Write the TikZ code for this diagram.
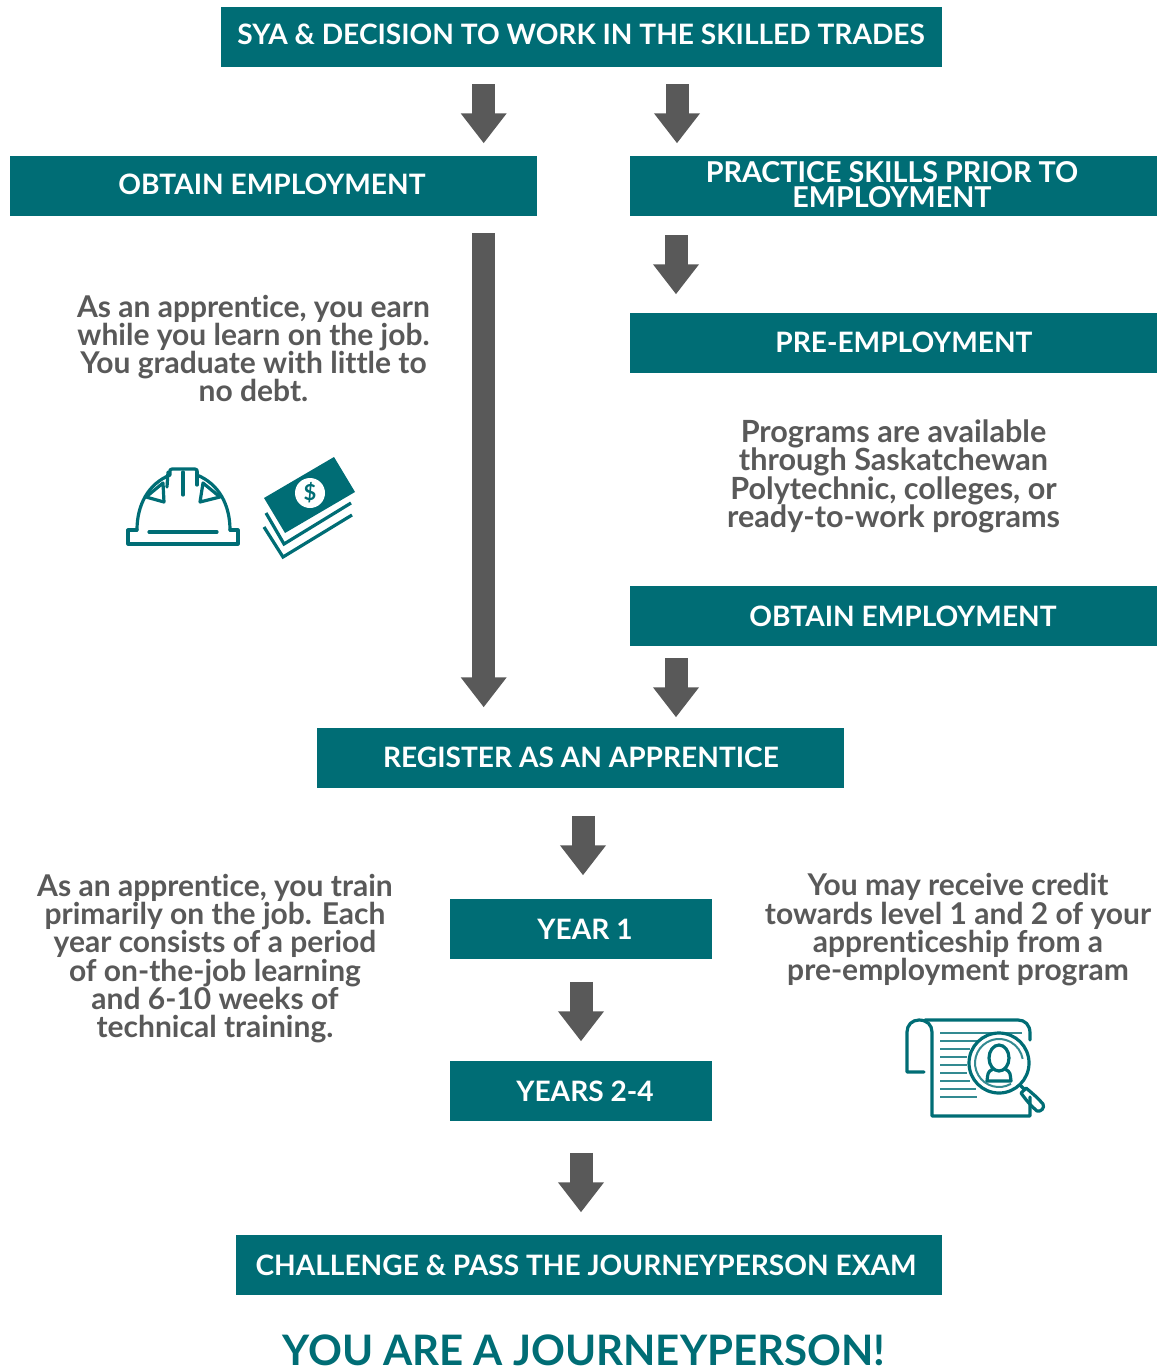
\documentclass[tikz,border=0pt]{standalone}
\usepackage{fontspec}
\setmainfont[Ligatures=NoCommon]{Lato}
\usetikzlibrary{arrows.meta,calc}
\definecolor{teal1}{HTML}{006D75}
\definecolor{gray1}{HTML}{595959}
\tikzset{
 x=1pt,y=-1pt,
 box/.style={fill=teal1,text=white,inner sep=0pt,font=\fontsize{28.1}{25}\selectfont\bfseries,align=center},
 para/.style={text=gray1,inner sep=0pt,font=\fontsize{30}{28.3}\selectfont\bfseries,align=center},
 blockarrow/.style={draw=gray1,line width=23pt,-{Triangle[width=44pt,length=30pt]}},
 iconline/.style={draw=teal1,line width=3.2pt,line join=round,line cap=round,fill=none},
 thinline/.style={draw=teal1!80!white,line width=2pt},
}
\begin{document}
\begin{tikzpicture}
\useasboundingbox (0,0) rectangle (1158,1367);
\node[box,minimum width=721pt,minimum height=59.6pt] (sya) at (581.5,36.8) {};
\node[box] at (581,34.5) {SYA \& DECISION TO WORK IN THE SKILLED TRADES};
\node[box,minimum width=527pt,minimum height=59.6pt] (ob1) at (273.5,185.8) {};
\node[box] at (272,184.5) {OBTAIN EMPLOYMENT};
\node[box,minimum width=527.5pt,minimum height=59.6pt] (prac) at (893.7,185.8) {};
\node[box,font=\fontsize{28.7}{25}\selectfont\bfseries] at (892,185) {PRACTICE SKILLS PRIOR TO\\EMPLOYMENT};
\node[box,minimum width=527.5pt,minimum height=59.6pt] (pre) at (893.7,342.8) {};
\node[box] at (904,342.5) {PRE-EMPLOYMENT};
\node[box,minimum width=527.5pt,minimum height=59.6pt] (ob2) at (893.7,615.8) {};
\node[box] at (903,616) {OBTAIN EMPLOYMENT};
\node[box,minimum width=527pt,minimum height=59.6pt] (reg) at (580.5,757.8) {};
\node[box] at (581,757) {REGISTER AS AN APPRENTICE};
\node[box,minimum width=262pt,minimum height=59.6pt] (y1) at (581,928.8) {};
\node[box] at (585,929.5) {YEAR 1};
\node[box,minimum width=262pt,minimum height=59.6pt] (y2) at (581,1090.8) {};
\node[box] at (585,1091.5) {YEARS 2-4};
\node[box,minimum width=706.5pt,minimum height=59.6pt] (ch) at (589.2,1264.8) {};
\node[box] at (586,1265) {CHALLENGE \& PASS THE JOURNEYPERSON EXAM};
\node[text=teal1,inner sep=0pt,font=\fontsize{42}{42}\selectfont\bfseries] (you) at (584,1350.5) {YOU ARE A JOURNEYPERSON!};

\node[para] (t1) at (253.5,348.5) {As an apprentice, you earn\\while you learn on the job.\\You graduate with little to\\no debt.};
\node[para,font=\fontsize{30.6}{28.3}\selectfont\bfseries] (t2) at (893.5,476.5) {Programs are available\\through Saskatchewan\\Polytechnic, colleges, or\\ready-to-work programs};
\node[para] (t3) at (215,958.5) {As an apprentice, you train\\primarily on the job. Each\\year consists of a period\\of on-the-job learning\\and 6-10 weeks of\\technical training.};
\node[para] (t4) at (958,930) {You may receive credit\\towards level 1 and 2 of your\\apprenticeship from a\\pre-employment program};

\draw[blockarrow] ([shift={(-97.8,17.5)}]sya.south) -- ([shift={(210.2,-12.5)}]ob1.north);
\draw[blockarrow] ([shift={(95.5,17.5)}]sya.south) -- ([shift={(-216.7,-12.5)}]prac.north);
\draw[blockarrow] ([shift={(210.2,17.5)}]ob1.south) -- ([shift={(-96.8,-20.5)}]reg.north);
\draw[blockarrow] ([shift={(-217.7,19.5)}]prac.south) -- ([shift={(-217.7,-18.5)}]pre.north);
\draw[blockarrow] ([shift={(-217.7,12.5)}]ob2.south) -- ([shift={(95.5,-10.5)}]reg.north);
\draw[blockarrow] ([shift={(2.5,28)}]reg.south) -- ([shift={(2,-23.5)}]y1.north);
\draw[blockarrow] ([shift={(0,23)}]y1.south) -- ([shift={(0,-19.5)}]y2.north);
\draw[blockarrow] ([shift={(0,32)}]y2.south) -- ([shift={(-8.2,-22.5)}]ch.north);

% hard hat
\draw[iconline] (137,530) -- (128,530) -- (128,544) -- (238,544) -- (238,530) -- (230,530);
\draw[iconline] (137,530) .. controls (137,505) and (148,484) .. (170,475) -- (170,470) -- (172,469) -- (195,469) -- (197,470) -- (197,475) .. controls (219,484) and (230,505) .. (230,530);
\draw[iconline] (149,532) -- (217,532);
\draw[iconline] (183,472) -- (183,495);
\draw[iconline] (163,483) -- (146,497) -- (164,502) -- cycle;
\draw[iconline] (203,483) -- (220,497) -- (200,502) -- cycle;
\draw[iconline] (168,472) -- (167,487);
\draw[iconline] (197,472) -- (197,485);
% money
\fill[teal1] (334,457) -- (355,492) -- (285,533) -- (264,498) -- cycle;
\fill[white] (310,493) circle (15);
\node[text=teal1,inner sep=0pt,font=\fontsize{22}{22}\selectfont\bfseries] (dollar) at (310,493) {\$};
\draw[draw=teal1,line width=3.2pt] (266,513) -- (284,544) -- (351,503);
\draw[draw=teal1,line width=3.2pt] (264,527) -- (283,557) -- (352,515);
% document
\draw[iconline] (925,1020) -- (1018,1020) .. controls (1025,1020) and (1030,1025) .. (1030,1033) -- (1030,1040);
\draw[iconline] (1030,1097) -- (1030,1116) -- (932,1116) -- (932,1032) .. controls (932,1025) and (927,1020) .. (919,1020) .. controls (912,1020) and (907,1025) .. (907,1032) -- (907,1072) -- (924,1072);
\foreach \yy/\xx in {1033/1022,1041/977,1049/970,1057/967,1065/967,1073/967,1081/970,1089/976,1097/977}
  \draw[thinline] (940,\yy) -- (\xx,\yy);
\draw[iconline] (999,1063) circle (30);
\draw[thinline] (1011,1083.8) arc[start angle=60,end angle=350,radius=24];
\draw[iconline] (999,1058) ellipse (10 and 13);
\draw[iconline] (993,1069) .. controls (987,1072) and (988,1074) .. (987,1081) -- (1011,1081) .. controls (1010,1074) and (1011,1072) .. (1005,1069);
\draw[iconline] (1020,1085) -- (1025,1090);
\draw[iconline] (1021,1093) -- (1026,1088) .. controls (1032,1093) and (1038,1098) .. (1043,1104) .. controls (1045,1108) and (1041,1112) .. (1037,1111) .. controls (1031,1106) and (1026,1100) .. (1021,1093);
\end{tikzpicture}
\end{document}
